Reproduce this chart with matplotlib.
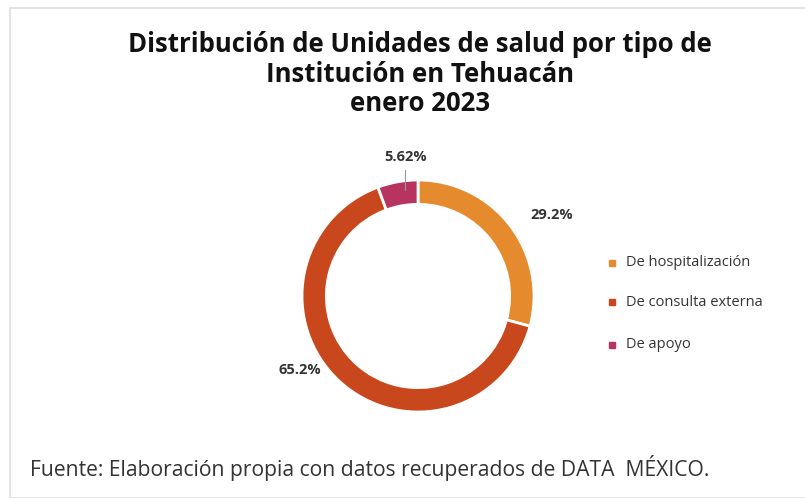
import matplotlib.pyplot as plt
from matplotlib.patches import Rectangle

categorias = ["De hospitalización", "De consulta externa", "De apoyo"]
porcentajes = [29.2, 65.2, 5.62]
etiquetas = ["29.2%", "65.2%", "5.62%"]
colores = ["#E68A2E", "#C9471C", "#B83460"]

W, H = 805, 498
fig = plt.figure(figsize=(W / 100, H / 100), dpi=100)
fig.patch.set_facecolor("white")

# marco gris claro
fig.patches.append(Rectangle((10 / W, 0), 1.2, 1 - 8 / H, transform=fig.transFigure,
                             fill=False, edgecolor="#DDDDDD", linewidth=1.2))

# anillo
cx, cy, R = 418, 296, 116
ax = fig.add_axes([(cx - R) / W, 1 - (cy + R) / H, 2 * R / W, 2 * R / H])
wedges, _ = ax.pie(porcentajes, colors=colores, startangle=90, counterclock=False,
                   radius=1, wedgeprops=dict(width=0.21, edgecolor="white", linewidth=2))
ax.set_xlim(-1, 1)
ax.set_ylim(-1, 1)
ax.set_aspect("equal")
ax.axis("off")

pos = [(1.15, 0.70), (-1.02, -0.64), (-0.11, 1.20)]
for (x, y), t in zip(pos, etiquetas):
    ax.text(x, y, t, ha="center", va="center", fontsize=10.5, fontweight="bold",
            color="#333333", family="Open Sans", clip_on=False)
ax.plot([-0.11, -0.11], [1.09, 0.91], color="#999999", lw=0.8, clip_on=False)

fig.text(420 / W, 1 - 74 / H,
         "Distribución de Unidades de salud por tipo de\nInstitución en Tehuacán\nenero 2023",
         ha="center", va="center", fontsize=18.5, fontweight="bold", family="Open Sans",
         linespacing=1.1, color="#111111")

# leyenda
ys = [263, 302, 345]
for c, lab, y in zip(colores, categorias, ys):
    fig.patches.append(Rectangle((609 / W, 1 - (y + 3) / H), 6 / W, 6 / H,
                                 transform=fig.transFigure, color=c))
    fig.text(626 / W, 1 - y / H, lab, ha="left", va="center", fontsize=10.5,
             family="Open Sans", color="#333333")

fig.text(30 / W, 1 - 468 / H, "Fuente: Elaboración propia con datos recuperados de DATA  MÉXICO.",
         ha="left", va="center", fontsize=15.2, family="Open Sans", color="#333333")

fig.savefig("out.png", dpi=100)
